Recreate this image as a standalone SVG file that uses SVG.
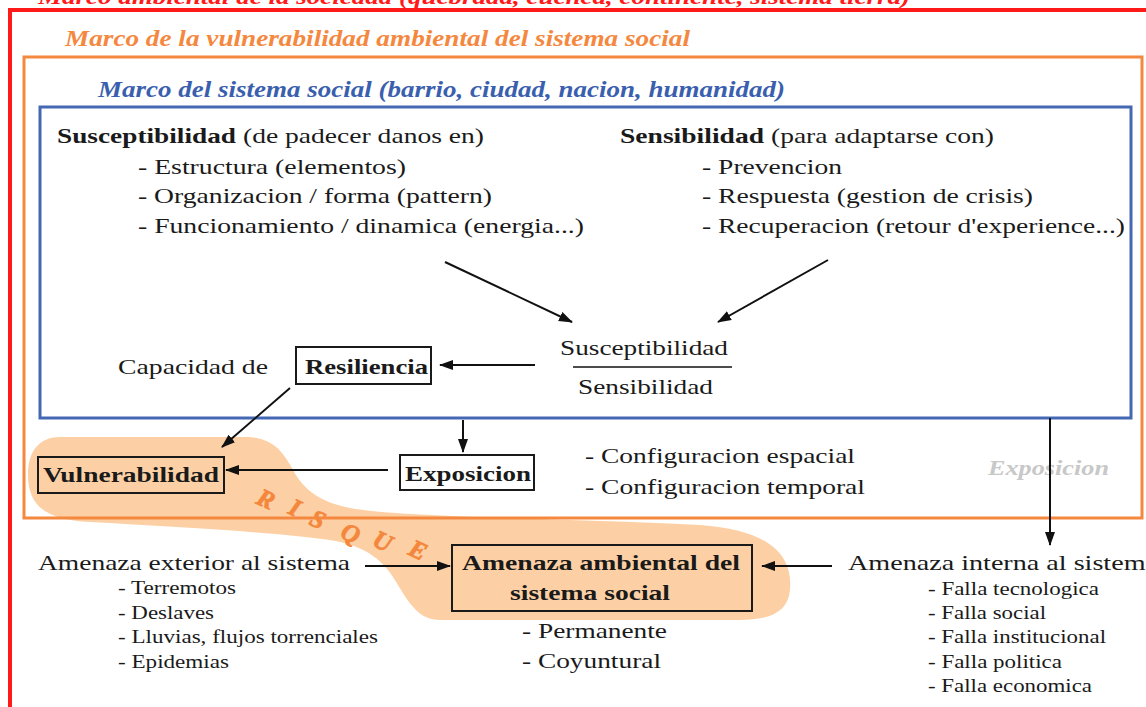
<svg xmlns="http://www.w3.org/2000/svg" width="1146" height="707" viewBox="0 0 1146 707">
<style>
text{font-family:"Liberation Serif","Times New Roman",serif}
.t{font-size:22px;fill:#1a1a1a}
.s{font-size:18px;fill:#1a1a1a}
.b{font-weight:bold}
.ti{font-weight:bold;font-style:italic}
.box{fill:none;stroke:#1a1a1a;stroke-width:2}
.c{stroke:#111;stroke-width:2;fill:none;marker-end:url(#ah)}
.rq{font-weight:bold;font-style:italic;font-size:25px;fill:#f4873b;stroke:#f4873b;stroke-width:0.8}
</style>
<defs>
<marker id="ah" viewBox="0 0 14 10" refX="13" refY="5" markerWidth="14" markerHeight="10" markerUnits="userSpaceOnUse" orient="auto">
<path d="M0,0 L14,5 L0,10 Z" fill="#111"/>
</marker>
</defs>
<rect width="1146" height="707" fill="#ffffff"/>
<g id="risque-zone">
<path d="M60,437 L250,437 C275,440 283,452 293,470 C305,492 322,503 355,509 C420,518 560,518 700,525 C770,530 793,555 790,590 C788,612 770,620 740,620 L440,620 C420,620 410,605 398,585 C385,562 368,546 330,540 C280,533 200,528 90,522 C45,520 28,505 28,475 C28,450 40,437 60,437 Z" fill="#fcd0a4"/>
<text class="rq" transform="translate(255,503) rotate(25)">R</text>
<text class="rq" transform="translate(287,513) rotate(25)">I</text>
<text class="rq" transform="translate(308,524) rotate(25)">S</text>
<text class="rq" transform="translate(339,537) rotate(25)">Q</text>
<text class="rq" transform="translate(371,545) rotate(25)">U</text>
<text class="rq" transform="translate(407,554) rotate(25)">E</text>
</g>
<g id="frame-ambiental">
<rect x="10" y="10" width="1200" height="800" fill="none" stroke="#ff1a1a" stroke-width="4"/>
<text class="ti" x="38" y="4" font-size="22" fill="#ff1a1a" textLength="872" lengthAdjust="spacingAndGlyphs">Marco ambiental de la sociedad (quebrada, cuenca, continente, sistema tierra)</text>
</g>
<g id="frame-vulnerabilidad">
<rect x="24" y="57" width="1118" height="461" fill="none" stroke="#f5883f" stroke-width="3"/>
<text class="ti" x="65" y="46" font-size="23" fill="#f5883f" textLength="625" lengthAdjust="spacingAndGlyphs">Marco de la vulnerabilidad ambiental del sistema social</text>
</g>
<g id="frame-sistema">
<rect x="40" y="107" width="1091" height="311" fill="none" stroke="#4468b4" stroke-width="3"/>
<text class="ti" x="98" y="97" font-size="23" fill="#3a5fae" textLength="687" lengthAdjust="spacingAndGlyphs">Marco del sistema social (barrio, ciudad, nacion, humanidad)</text>
</g>
<g id="susceptibilidad">
<text class="t b" x="57" y="143" textLength="179" lengthAdjust="spacingAndGlyphs">Susceptibilidad</text>
<text class="t" x="243" y="143" textLength="241" lengthAdjust="spacingAndGlyphs">(de padecer danos en)</text>
<text class="t" x="138" y="174" textLength="268" lengthAdjust="spacingAndGlyphs">- Estructura (elementos)</text>
<text class="t" x="138" y="203" textLength="354" lengthAdjust="spacingAndGlyphs">- Organizacion / forma (pattern)</text>
<text class="t" x="138" y="233" textLength="446" lengthAdjust="spacingAndGlyphs">- Funcionamiento / dinamica (energia...)</text>
</g>
<g id="sensibilidad">
<text class="t b" x="620" y="143" textLength="144" lengthAdjust="spacingAndGlyphs">Sensibilidad</text>
<text class="t" x="771" y="143" textLength="223" lengthAdjust="spacingAndGlyphs">(para adaptarse con)</text>
<text class="t" x="702" y="174" textLength="140" lengthAdjust="spacingAndGlyphs">- Prevencion</text>
<text class="t" x="702" y="203" textLength="331" lengthAdjust="spacingAndGlyphs">- Respuesta (gestion de crisis)</text>
<text class="t" x="702" y="233" textLength="423" lengthAdjust="spacingAndGlyphs">- Recuperacion (retour d'experience...)</text>
</g>
<g id="ratio">
<text class="t" x="560" y="355" textLength="168" lengthAdjust="spacingAndGlyphs">Susceptibilidad</text>
<line x1="573" y1="367" x2="732" y2="367" stroke="#111" stroke-width="1.5"/>
<text class="t" x="578" y="394" textLength="135" lengthAdjust="spacingAndGlyphs">Sensibilidad</text>
</g>
<g id="resiliencia">
<text class="t" x="118" y="374" textLength="150" lengthAdjust="spacingAndGlyphs">Capacidad de</text>
<rect class="box" x="296" y="347" width="135" height="37"/>
<text class="t b" x="305" y="374" textLength="123" lengthAdjust="spacingAndGlyphs">Resiliencia</text>
</g>
<g id="vulnerabilidad">
<rect class="box" x="38" y="457" width="186" height="36"/>
<text class="t b" x="43" y="482" textLength="176" lengthAdjust="spacingAndGlyphs">Vulnerabilidad</text>
</g>
<g id="exposicion">
<rect class="box" x="400" y="455" width="134" height="35"/>
<text class="t b" x="405" y="481" textLength="126" lengthAdjust="spacingAndGlyphs">Exposicion</text>
<text class="t" x="585" y="463" textLength="270" lengthAdjust="spacingAndGlyphs">- Configuracion espacial</text>
<text class="t" x="585" y="494" textLength="280" lengthAdjust="spacingAndGlyphs">- Configuracion temporal</text>
</g>
<g id="exposicion-label">
<text class="ti" x="988" y="475" font-size="21" fill="#c8c8c8" textLength="121" lengthAdjust="spacingAndGlyphs">Exposicion</text>
</g>
<g id="amenaza-exterior">
<text class="t" x="38" y="570" textLength="312" lengthAdjust="spacingAndGlyphs">Amenaza exterior al sistema</text>
<text class="s" x="118" y="594" textLength="118" lengthAdjust="spacingAndGlyphs">- Terremotos</text>
<text class="s" x="118" y="619" textLength="96" lengthAdjust="spacingAndGlyphs">- Deslaves</text>
<text class="s" x="118" y="643" textLength="260" lengthAdjust="spacingAndGlyphs">- Lluvias, flujos torrenciales</text>
<text class="s" x="118" y="668" textLength="111" lengthAdjust="spacingAndGlyphs">- Epidemias</text>
</g>
<g id="amenaza-ambiental">
<rect x="452" y="545" width="300" height="66" fill="#fcd0a4" stroke="#1a1a1a" stroke-width="2"/>
<text class="t b" x="462" y="570" textLength="278" lengthAdjust="spacingAndGlyphs">Amenaza ambiental del</text>
<text class="t b" x="510" y="600" textLength="160" lengthAdjust="spacingAndGlyphs">sistema social</text>
<text class="t" x="522" y="638" textLength="145" lengthAdjust="spacingAndGlyphs">- Permanente</text>
<text class="t" x="522" y="668" textLength="139" lengthAdjust="spacingAndGlyphs">- Coyuntural</text>
</g>
<g id="amenaza-interna">
<text class="t" x="848" y="570" textLength="310" lengthAdjust="spacingAndGlyphs">Amenaza interna al sistema</text>
<text class="s" x="928" y="595" textLength="171" lengthAdjust="spacingAndGlyphs">- Falla tecnologica</text>
<text class="s" x="928" y="619" textLength="118" lengthAdjust="spacingAndGlyphs">- Falla social</text>
<text class="s" x="928" y="643" textLength="178" lengthAdjust="spacingAndGlyphs">- Falla institucional</text>
<text class="s" x="928" y="668" textLength="134" lengthAdjust="spacingAndGlyphs">- Falla politica</text>
<text class="s" x="928" y="692" textLength="164" lengthAdjust="spacingAndGlyphs">- Falla economica</text>
</g>
<g id="connectors">
<line class="c" x1="445" y1="262" x2="572" y2="322"/>
<line class="c" x1="828" y1="260" x2="718" y2="322"/>
<line class="c" x1="535" y1="365" x2="440" y2="365"/>
<line class="c" x1="290" y1="388" x2="222" y2="447"/>
<line class="c" x1="463" y1="420" x2="463" y2="452"/>
<line class="c" x1="388" y1="470" x2="226" y2="470"/>
<line class="c" x1="1050" y1="418" x2="1050" y2="545"/>
<line class="c" x1="365" y1="566" x2="450" y2="566"/>
<line class="c" x1="832" y1="566" x2="762" y2="566"/>
</g>
</svg>
